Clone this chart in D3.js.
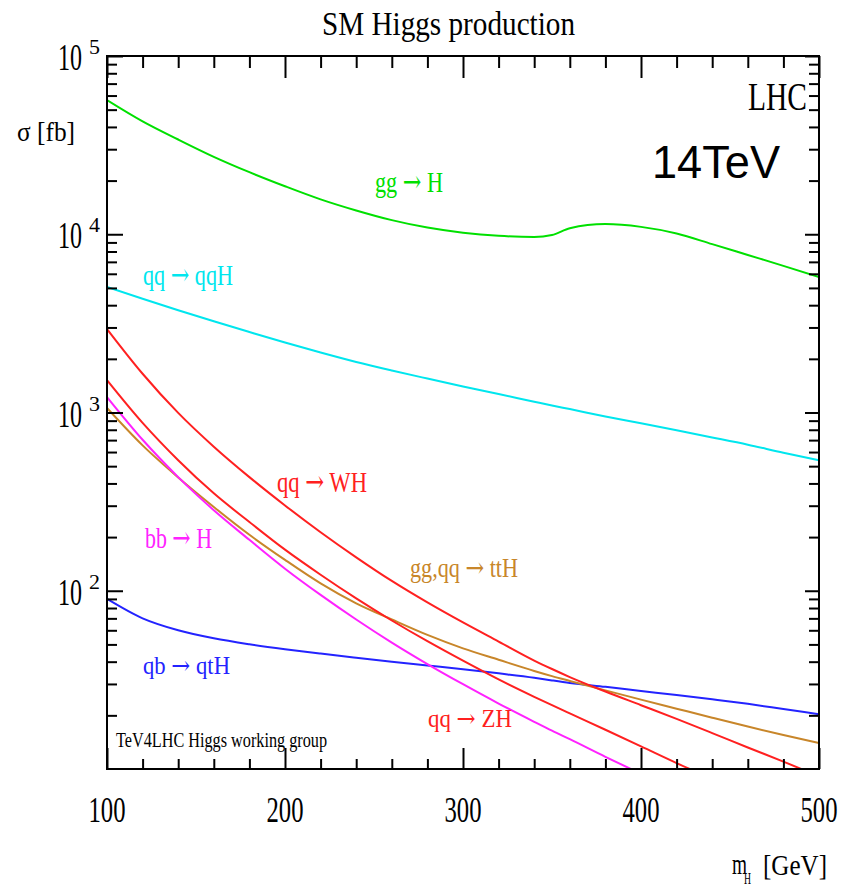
<!DOCTYPE html>
<html>
<head>
<meta charset="utf-8">
<script src="https://cdn.jsdelivr.net/npm/d3@7"></script>
<style>
  body { margin: 0; background: #fff; }
  svg { display: block; }
</style>
</head>
<body>
<div id="chart"></div>
<script>
// Higgs mass points [GeV]
const MASS = [100, 120, 140, 160, 180, 200, 220, 240, 260, 280, 300, 320, 340, 350, 360, 380, 400, 420, 440, 460, 480, 500];

// cross sections [fb]
const GG_H   = [56600, 43000, 34000, 27200, 22300, 18600, 15700, 13600, 12000, 10900, 10200, 9800, 9650, 9900, 10800, 11400, 11000, 10100, 8800, 7650, 6650, 5750];
const QQ_QQH = [5060, 4350, 3750, 3250, 2830, 2470, 2170, 1920, 1720, 1550, 1400, 1270, 1150, 1095, 1045, 950, 870, 795, 725, 660, 595, 540];
const QQ_WH  = [2940, 1650, 995, 643, 434, 301, 213, 154, 113.5, 86, 66.4, 51.9, 40.6, 36.4, 32.8, 27.2, 22.8, 19.1, 15.9, 13.2, 11, 9.1];
const QQ_ZH  = [1520, 875, 540, 352, 243, 170, 123, 90.6, 68.1, 52.1, 40.5, 31.8, 25.4, 22.8, 20.5, 16.6, 13.4, 10.8, 8.8, 7.1, 5.7, 4.6];
const BB_H   = [1220, 703, 434, 283, 193, 133, 94.8, 69, 51.2, 38.8, 29.9, 23.3, 18.4, 16.4, 14.7, 11.7, 9.4, 7.6, 6.1, 4.9, 3.9, 3.1];
const TT_H   = [1060, 654, 432, 295, 206, 149, 110, 85, 69, 56.5, 47.5, 41, 35.5, 33.2, 31.2, 27.6, 24.5, 21.8, 19.4, 17.3, 15.5, 14];
const QB_QTH = [90, 70, 60, 54.1, 50.1, 47, 44.4, 42.1, 40, 38.1, 36.3, 34.4, 32.5, 31.4, 30.4, 28.9, 27.4, 26, 24.6, 23.2, 21.7, 20.3];

const X_MAJOR = [100, 200, 300, 400, 500];
const Y_MAJOR = [100, 1000, 10000, 100000];

const WIDTH = 853, HEIGHT = 888;
const LEFT = 107, RIGHT = 819, TOP = 56, BOTTOM = 769;
const SERIF = "'Liberation Serif', 'Times New Roman', serif";
const SANS = "'Liberation Sans', Arial, sans-serif";
const ARROW_FONT = "'DejaVu Serif', 'DejaVu Sans', serif";

const svg = d3.select("#chart")
    .append("svg")
        .attr("width", WIDTH)
        .attr("height", HEIGHT);

const x = d3.scaleLinear().domain([100, 500]).range([LEFT, RIGHT]);
const y = d3.scaleLog().domain([10, 1e5]).range([BOTTOM, TOP]);

// text helper: the original glyphs are narrow, so squeeze to the measured width
function label(px, py, txt, size, len, color, anchor = "start", family = SERIF) {
    const t = svg.append("text")
        .attr("x", px)
        .attr("y", py)
        .attr("font-family", family)
        .attr("font-size", size)
        .attr("fill", color)
        .attr("text-anchor", anchor)
        .attr("textLength", len)
        .attr("lengthAdjust", "spacingAndGlyphs");
    // long arrow like the original, taken from DejaVu
    txt.split(/(→)/).forEach(part => {
        if (!part) return;
        const s = t.append("tspan").text(part);
        if (part === "→") s.attr("font-family", ARROW_FONT);
    });
    return t;
}

// CURVES
const series = [
    { values: QQ_QQH, color: "#00e6ee" },
    { values: GG_H,   color: "#00e000" },
    { values: QB_QTH, color: "#2323ff" },
    { values: TT_H,   color: "#c8862a" },
    { values: BB_H,   color: "#ff22ff" },
    { values: QQ_ZH,  color: "#ff2020" },
    { values: QQ_WH,  color: "#ff2020" },
];

svg.append("clipPath").attr("id", "plot")
    .append("rect")
        .attr("x", x(100)).attr("y", y(1e5))
        .attr("width", x(500) - x(100))
        .attr("height", y(10) - y(1e5));

const line = d3.line()
    .x((d, i) => x(MASS[i]))
    .y(d => y(d))
    .curve(d3.curveMonotoneX);

svg.append("g")
    .attr("clip-path", "url(#plot)")
    .selectAll("path")
    .data(series)
    .enter()
    .append("path")
        .attr("d", d => line(d.values))
        .attr("fill", "none")
        .attr("stroke", d => d.color)
        .attr("stroke-width", 2);

// AXES (ticks point inward, no labels from d3)
const xMinor = d3.range(120, 500, 20).filter(v => v % 100 !== 0);
const yMinor = [];
[10, 100, 1000, 10000].forEach(d => d3.range(2, 10).forEach(k => yMinor.push(d * k)));

function ticks(axis, tx, ty) {
    svg.append("g")
        .attr("transform", `translate(${tx}, ${ty})`)
        .call(axis.tickFormat("").tickSizeOuter(0))
        .call(g => g.select(".domain").remove())
        .call(g => g.selectAll("line").attr("stroke", "#000").attr("stroke-width", 2));
}
ticks(d3.axisBottom(x).tickValues(xMinor).tickSize(-10), 0, BOTTOM);
ticks(d3.axisBottom(x).tickValues(X_MAJOR).tickSize(-21), 0, BOTTOM);
ticks(d3.axisTop(x).tickValues(xMinor).tickSize(-12), 0, TOP);
ticks(d3.axisTop(x).tickValues(X_MAJOR).tickSize(-22), 0, TOP);
ticks(d3.axisLeft(y).tickValues(yMinor).tickSize(-10), LEFT, 0);
ticks(d3.axisLeft(y).tickValues(Y_MAJOR).tickSize(-16), LEFT, 0);
ticks(d3.axisRight(y).tickValues(yMinor).tickSize(-10), RIGHT, 0);
ticks(d3.axisRight(y).tickValues(Y_MAJOR).tickSize(-14), RIGHT, 0);

svg.append("rect")
    .attr("x", x(100)).attr("y", y(1e5))
    .attr("width", x(500) - x(100))
    .attr("height", y(10) - y(1e5))
    .attr("fill", "none")
    .attr("stroke", "#000")
    .attr("stroke-width", 2);

// tick labels
X_MAJOR.forEach(v => label(x(v), 822, String(v), 36, 37, "#000", "middle"));
Y_MAJOR.forEach(v => {
    label(82, y(v) + 14, "10", 38, 24, "#000", "end");
    label(89, y(v) - 2, String(Math.round(Math.log10(v))), 20, 11, "#000");
});

// TITLES
label(322, 35, "SM Higgs production", 34, 253, "#000");
label(17, 141, "σ [fb]", 27, 58, "#000");
label(732, 874, "m", 30, 15, "#000");
label(744, 884, "H", 16, 7, "#000");
label(763, 875, "[GeV]", 30, 64, "#000");
label(807, 110, "LHC", 40, 59, "#000", "end");
label(652, 178, "14TeV", 47, 128, "#000", "start", SANS);
label(116, 747, "TeV4LHC Higgs working group", 21, 211, "#000");

// curve labels
label(375, 192, "gg → H", 30, 68, "#00e000");
label(143, 285, "qq → qqH", 30, 90, "#00e6ee");
label(277, 492, "qq → WH", 30, 90, "#ff2020");
label(410, 577, "gg,qq → ttH", 27, 108, "#c8862a");
label(145, 548, "bb → H", 30, 67, "#ff22ff");
label(143, 674, "qb → qtH", 25, 87, "#2323ff");
label(428, 727, "qq → ZH", 25, 84, "#ff2020");
</script>
</body>
</html>
